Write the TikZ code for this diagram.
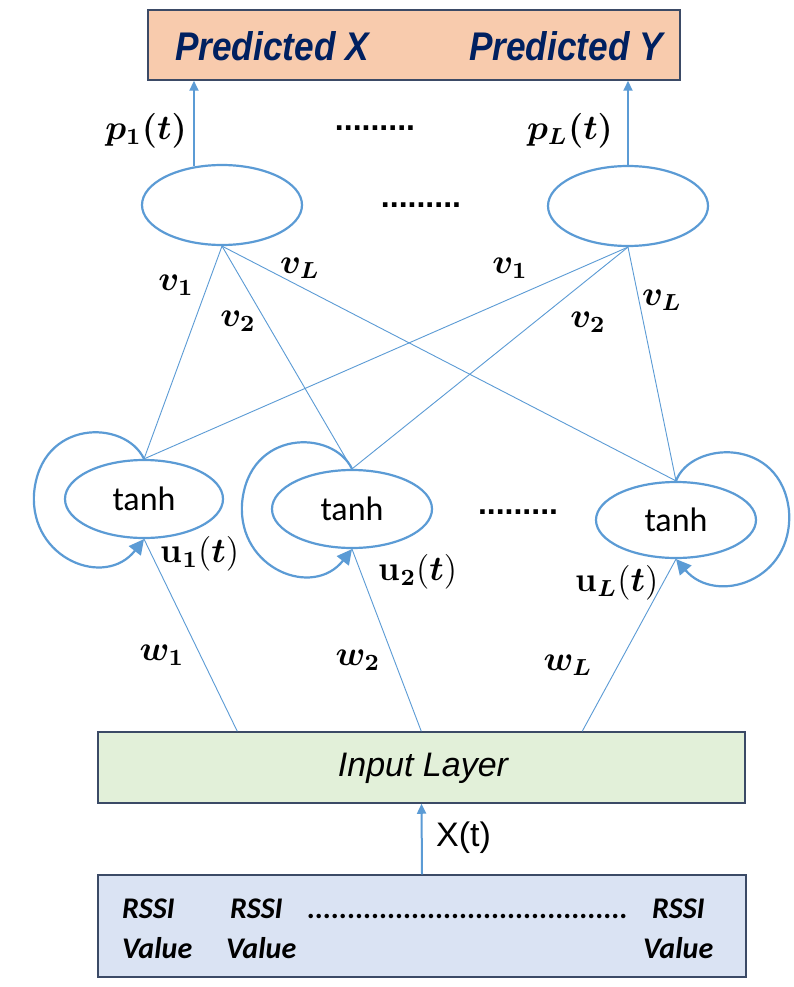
\documentclass[tikz,border=0pt]{standalone}
\usepackage{amsmath,bm}
\usepackage{fontspec}
\setmainfont{Liberation Sans}
\newfontfamily\carl{Carlito}
\newfontfamily\lmr{Latin Modern Roman}
\usetikzlibrary{arrows.meta,shapes.geometric}
\definecolor{lblue}{HTML}{5B9BD5}
\definecolor{navy}{HTML}{002060}
\definecolor{peach}{HTML}{F8CBAD}
\definecolor{lgreen}{HTML}{E2F0D9}
\definecolor{lsteel}{HTML}{DAE3F3}
\definecolor{bord}{HTML}{3B4A66}
\newcommand\ub{\text{\lmr\bfseries u}}
\newcommand\lloopdraw[1]{\draw[loopline] (#1.north) .. controls ([shift={(-19,-40)}]#1.north) and ([shift={(-104,-40)}]#1.north) .. ([shift={(-110,35)}]#1.north) .. controls ([shift={(-114,100)}]#1.north) and ([shift={(-39,130)}]#1.north) .. (#1.south);}
\newcommand\rloopdraw[1]{\draw[loopline] (#1.north) .. controls ([shift={(15,-40)}]#1.north) and ([shift={(105,-45)}]#1.north) .. ([shift={(113,30)}]#1.north) .. controls ([shift={(118,100)}]#1.north) and ([shift={(40,125)}]#1.north) .. (#1.south);}
\begin{document}
\begin{tikzpicture}[x=1pt,y=-1pt,
  ell/.style={draw=lblue,line width=2.2pt,ellipse,inner sep=0pt},
  conn/.style={draw=lblue,line width=0.9pt},
  arr/.style={draw=lblue,line width=2pt,-{Triangle[width=9pt,length=10pt]}},
  loopline/.style={draw=lblue,line width=2.2pt,-{Triangle[width=15pt,length=15pt]}},
  boxst/.style={draw=bord,line width=1.5pt,inner sep=0pt},
  pred/.style={font=\fontsize{40}{44}\selectfont\bfseries\itshape,text=navy,inner sep=0pt,xscale=0.88,transform shape},
  mlab/.style={font=\fontsize{12}{14}\selectfont,inner sep=0pt,scale=2.9,transform shape},
  dots/.style={font=\fontsize{32}{40}\selectfont\bfseries,inner sep=0pt},
  tanhst/.style={font=\carl\fontsize{34}{38}\selectfont,inner sep=0pt},
  rssi/.style={font=\carl\fontsize{30}{34}\selectfont\bfseries\itshape,inner sep=0pt,anchor=base west}]
\useasboundingbox (0,0) rectangle (794,987);
\fill[white] (0,0) rectangle (794,987);
% top box
\node[boxst,fill=peach,minimum width=532pt,minimum height=70pt] (out) at (414,45) {};
\node[pred] (px) at (272,46) {Predicted X};
\node[pred] (py) at (566,46) {Predicted Y};
% output ellipses
\node[ell,minimum width=160pt,minimum height=80pt] (o1) at (222,205) {};
\node[ell,minimum width=160pt,minimum height=80pt] (o2) at (628,206) {};
\draw[arr] (o1.126) -- (o1.126 |- out.south);
\draw[arr] (o2.north) -- (o2.north |- out.south);
\node[mlab] (p1) at (146,131) {$\bm{p_1(t)}$};
\node[mlab] (pL) at (570,131) {$\bm{p_L(t)}$};
\node[dots] (d1) at (375,128) {.........};
\node[dots] (d2) at (421,205) {.........};
% hidden ellipses
\node[ell,minimum width=158pt,minimum height=78pt] (h1) at (144,499) {};
\node[tanhst] (t1) at (144,499) {tanh};
\node[ell,minimum width=160pt,minimum height=78pt] (h2) at (352,509) {};
\node[tanhst] (t2) at (352,509) {tanh};
\node[ell,minimum width=160pt,minimum height=76pt] (h3) at (676,520) {};
\node[tanhst] (t3) at (676,520) {tanh};
\node[dots] (d3) at (518,512) {.........};
% connections output-hidden
\foreach \o in {o1,o2}{
  \foreach \h in {h1,h2,h3}{
    \draw[conn] (\o.south) -- (\h.north);
  }
}
\node[mlab] (v11) at (176,285) {$\bm{v_1}$};
\node[mlab] (v12) at (238,321) {$\bm{v_2}$};
\node[mlab] (v1L) at (300,268) {$\bm{v_L}$};
\node[mlab] (v21) at (510,268) {$\bm{v_1}$};
\node[mlab] (v22) at (588,322) {$\bm{v_2}$};
\node[mlab] (v2L) at (662,300) {$\bm{v_L}$};
% loops
\lloopdraw{h1}
\lloopdraw{h2}
\rloopdraw{h3}
\node[mlab] (u1) at (200,554) {$\ub_{\bm{1}}(\bm{t})$};
\node[mlab] (u2) at (418,572) {$\ub_{\bm{2}}(\bm{t})$};
\node[mlab] (uL) at (617,583) {$\ub_{\bm{L}}(\bm{t})$};
% input layer
\node[boxst,fill=lgreen,minimum width=647pt,minimum height=71pt] (in) at (421.5,767.5) {};
\node[font=\fontsize{34}{38}\selectfont\itshape,inner sep=0pt] (inl) at (423,768) {Input Layer};
\draw[conn] ([xshift=140pt]in.north west) -- (h1.south);
\draw[conn] ([xshift=324pt]in.north west) -- (h2.south);
\draw[conn] ([xshift=485pt]in.north west) -- (h3.south);
\node[mlab] (w1) at (162,655) {$\bm{w_1}$};
\node[mlab] (w2) at (358,660) {$\bm{w_2}$};
\node[mlab] (wL) at (568,665) {$\bm{w_L}$};
% RSSI box
\node[boxst,fill=lsteel,minimum width=648pt,minimum height=102pt] (rs) at (422,926) {};
\draw[arr] (rs.north) -- (in.south);
\node[font=\fontsize{34}{38}\selectfont,inner sep=0pt,anchor=west] (xt) at (436,838) {X(t)};
\node[rssi] (r1) at (122,918) {RSSI};
\node[rssi] (a1) at (122,958) {Value};
\node[rssi] (r2) at (230,918) {RSSI};
\node[rssi] (a2) at (226,958) {Value};
\node[rssi] (rd) at (305,918) {\hbox to 325pt{\cleaders\hbox{.}\hfill}};
\node[rssi] (r3) at (652,918) {RSSI};
\node[rssi] (a3) at (643,958) {Value};
\end{tikzpicture}
\end{document}
